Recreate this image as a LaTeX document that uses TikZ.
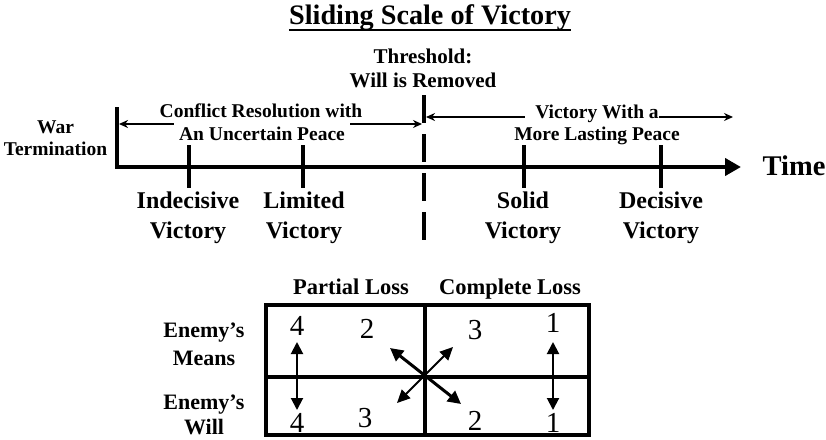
\documentclass[tikz,border=0pt]{standalone}
\usepackage{fontspec}
\setmainfont{Liberation Serif}
\usetikzlibrary{arrows.meta}
\begin{document}
\begin{tikzpicture}[x=1pt,y=-1pt,
  txt/.style={anchor=base,inner sep=0pt},
  bigb/.style={txt,font=\bfseries\fontsize{24}{28}\selectfont},
  midb/.style={txt,font=\bfseries\fontsize{21}{24}\selectfont},
  smallb/.style={txt,font=\bfseries\fontsize{19.5}{22}\selectfont},
  numtxt/.style={txt,font=\fontsize{29}{30}\selectfont},
  heavy/.style={line width=4pt},
  frame/.style={line width=3.5pt},
  spanarrow/.style={line width=1.8pt,{Stealth[length=9pt,width=8pt]}-{Stealth[length=9pt,width=8pt]}},
  vdouble/.style={line width=2pt,{Triangle[length=12pt,width=12pt]}-{Triangle[length=12pt,width=12pt]}},
]
\useasboundingbox (0,0) rectangle (826,439);

% title
\node[txt,font=\bfseries\fontsize{28.2}{30}\selectfont] (title) at (430,24) {Sliding Scale of Victory};
\draw[line width=1.6pt] ([yshift=-6pt]title.base west) -- ([yshift=-6pt]title.base east);

% threshold
\node[midb] (thr1) at (423,63) {Threshold:};
\node[midb] (thr2) at (423,87) {Will is Removed};

% coordinates
\coordinate (vtop) at (117,109);
\coordinate (origin) at (117,167);
\coordinate (axend) at (741,167);
\coordinate (dtop) at (424,95);
\coordinate (dbot) at (424,242);
\coordinate (la) at (119,124);
\coordinate (lb) at (422,124);
\coordinate (ra) at (426,117);
\coordinate (rb) at (733,117);

% spanning arrows
\draw[spanarrow] (la) -- (lb);
\draw[spanarrow] (ra) -- (rb);

% axis
\draw[heavy,line cap=rect] (vtop) -- (origin);
\draw[heavy,-{Triangle[length=16pt,width=17pt]}] (origin) -- (axend);
\draw[heavy,dash pattern=on 28pt off 11pt] (dtop) -- (dbot);

% ticks
\foreach \n/\x in {t1/189,t2/303,t3/524,t4/661}{
  \coordinate (\n a) at (\x,145);
  \coordinate (\n b) at (\x,188);
  \draw[heavy] (\n a) -- (\n b);
}

% range texts
\node[smallb,fill=white,inner xsep=5pt,inner ysep=4pt] (cr2) at (262,140) {An Uncertain Peace};
\node[smallb] (cr1) at (261,117) {Conflict Resolution with};
\node[smallb,fill=white] (vw1) at (592,118) {\hspace*{10pt}Victory With a};
\node[smallb] (vw2) at (597,140) {More Lasting Peace};

\node[smallb] (war1) at (55.5,133) {War};
\node[smallb] (war2) at (55.5,155) {Termination};

\node[txt,font=\bfseries\fontsize{28.5}{30}\selectfont] (time) at (794,175) {Time};

% victory labels
\node[bigb] (iv1) at (188,208) {Indecisive};
\node[bigb] (iv2) at (188,238) {Victory};
\node[bigb] (lv1) at (304,208) {Limited};
\node[bigb] (lv2) at (304,238) {Victory};
\node[bigb] (sv1) at (523,208) {Solid};
\node[bigb] (sv2) at (523,238) {Victory};
\node[bigb] (dv1) at (661,208) {Decisive};
\node[bigb] (dv2) at (661,238) {Victory};

% table
\coordinate (tl) at (266,305);
\coordinate (br) at (589,435);
\coordinate (ml) at (266,377);
\coordinate (mr) at (589,377);
\coordinate (mt) at (425,305);
\coordinate (mb) at (425,435);
\draw[frame] (tl) rectangle (br);
\draw[frame] (ml) -- (mr);
\draw[frame] (mt) -- (mb);

\node[txt,font=\bfseries\fontsize{22.5}{26}\selectfont] (pl) at (351,294) {Partial Loss};
\node[txt,font=\bfseries\fontsize{22.5}{26}\selectfont] (cl) at (510,294) {Complete Loss};

\node[txt,font=\bfseries\fontsize{22}{26}\selectfont] (em1) at (204,337) {Enemy’s};
\node[txt,font=\bfseries\fontsize{22}{26}\selectfont] (em2) at (204,365) {Means};
\node[txt,font=\bfseries\fontsize{22}{26}\selectfont] (ew1) at (204,409) {Enemy’s};
\node[txt,font=\bfseries\fontsize{22}{26}\selectfont] (ew2) at (204,434) {Will};

% numbers
\node[numtxt] (n4a) at (297,335) {4};
\node[numtxt] (n2a) at (367,338) {2};
\node[numtxt] (n3a) at (475,339) {3};
\node[numtxt] (n1a) at (553,332) {1};
\node[numtxt] (n4b) at (297,432) {4};
\node[numtxt] (n3b) at (365,427) {3};
\node[numtxt] (n2b) at (475,430) {2};
\node[numtxt] (n1b) at (553,432) {1};

% arrows in table
\coordinate (va1) at (297,342);
\coordinate (vb1) at (297,410);
\coordinate (va2) at (553,342);
\coordinate (vb2) at (553,410);
\draw[vdouble] (va1) -- (vb1);
\draw[vdouble] (va2) -- (vb2);

\coordinate (dA) at (390,348);
\coordinate (dB) at (461,404);
\coordinate (dC) at (453,347);
\coordinate (dD) at (397,403);
\draw[line width=3pt,{Triangle[length=13pt,width=13pt]}-{Triangle[length=13pt,width=13pt]}] (dA) -- (dB);
\draw[line width=1.8pt,{Triangle[length=13pt,width=12pt]}-{Triangle[length=13pt,width=12pt]}] (dC) -- (dD);
\end{tikzpicture}
\end{document}
